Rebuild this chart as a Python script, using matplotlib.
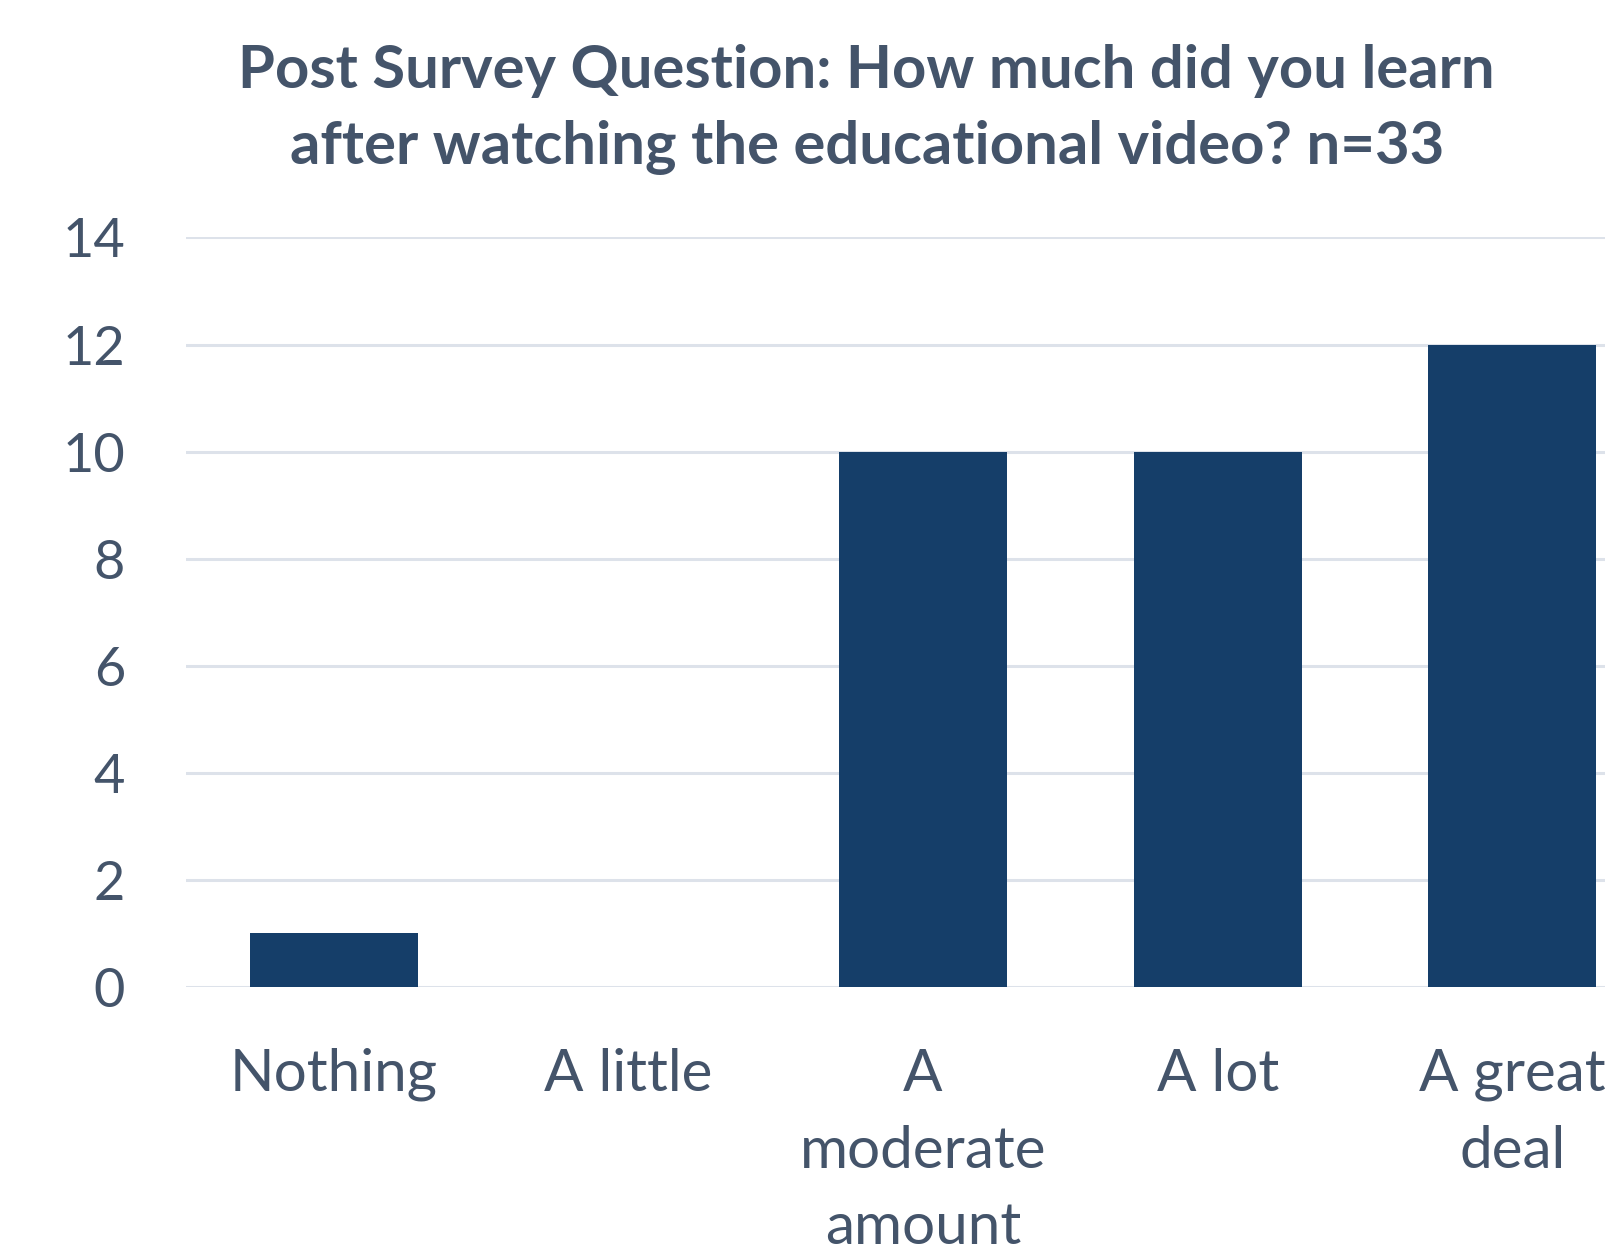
import numpy as np
import matplotlib.pyplot as plt

# Data

categories = ['Nothing', 'A little', 'A\nmoderate\namount', 'A lot', 'A great\ndeal']
counts = [1, 0, 10, 10, 12]
yticks = [0, 2, 4, 6, 8, 10, 12, 14]

title = 'Post Survey Question: How much did you learn\nafter watching the educational video? n=33'

# Styles

text_color = '#44546A'
bar_color = '#153E69'
grid_color = '#DDE2EA'
plt.rcParams['font.family'] = ['Lato', 'DejaVu Sans']

fig = plt.figure(figsize=(16.05, 12.48), dpi=100)
ax = fig.add_axes([0.1161, 0.2093, 0.918, 0.6004])

x = np.arange(len(categories))
ax.bar(x, counts, width=0.57, color=bar_color, zorder=2)

ax.set_xlim(-0.5, len(categories) - 0.5)
ax.set_ylim(0, 14)
ax.set_yticks(yticks)
ax.set_xticks(x)
ax.set_xticklabels(categories, fontsize=42, color=text_color, linespacing=1.55,
                   va='top')
ax.set_yticklabels([str(v) for v in yticks], fontsize=39, color=text_color)

ax.tick_params(axis='both', length=0)
ax.tick_params(axis='y', pad=44)
ax.tick_params(axis='x', pad=44)

for v in yticks:
    ax.axhline(v, color=grid_color, lw=2.2, zorder=1)

for s in ax.spines.values():
    s.set_visible(False)

fig.text(0.54, 0.965, title, ha='center', va='top', fontsize=43,
         fontweight='bold', color=text_color, linespacing=1.5)

plt.savefig('out.png', dpi=100)
